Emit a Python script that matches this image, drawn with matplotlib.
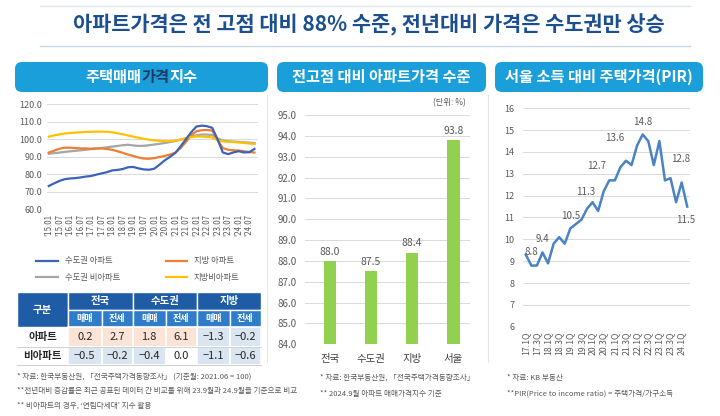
import numpy as np
import matplotlib
matplotlib.use('Agg')
import matplotlib.pyplot as plt
from matplotlib.patches import FancyBboxPatch, Rectangle

plt.rcParams['font.family'] = ['Noto Sans CJK KR', 'DejaVu Sans']

W, H = 720, 416
GRAY_TXT = '#595959'
GRID = '#d9d9d9'
TAB = '#1a9fdb'

TITLE = '아파트가격은 전 고점 대비 88% 수준, 전년대비 가격은 수도권만 상승'

# ---- left: 주택매매가격지수 (quarterly readings, months since 2015.01)
months = np.arange(0, 118, 3)
metro_apt = [73.3, 74.8, 76.2, 77.2, 77.6, 77.8, 78.2, 78.7, 79.0, 79.8,
             80.5, 81.2, 82.2, 82.5, 83.0, 84.0, 84.2, 83.4, 82.8, 82.6,
             83.2, 85.5, 88.0, 90.0, 92.2, 96.0, 100.0, 104.0, 107.3, 107.8,
             107.5, 106.5, 100.0, 92.5, 91.5, 92.5, 93.2, 92.5, 92.6, 94.5]
local_apt = [92.4, 93.5, 94.6, 95.2, 95.2, 95.0, 94.8, 94.8, 94.6, 94.8,
             94.8, 94.5, 94.0, 93.2, 92.3, 91.3, 90.5, 89.6, 89.0, 88.9,
             89.2, 89.9, 90.5, 91.3, 92.4, 95.0, 98.5, 102.3, 104.6, 105.2,
             105.3, 105.0, 99.5, 95.0, 94.0, 93.7, 93.6, 93.2, 92.8, 92.4]
metro_non = [91.8, 92.1, 92.4, 92.8, 93.1, 93.4, 93.7, 94.0, 94.4, 94.7,
             95.0, 95.4, 95.8, 96.2, 96.6, 96.9, 96.5, 96.2, 96.3, 96.6,
             97.0, 97.4, 97.9, 98.4, 99.0, 99.8, 100.6, 101.5, 102.3, 102.7,
             102.7, 102.5, 100.5, 99.3, 98.9, 98.7, 98.5, 98.3, 98.1, 97.8]
local_non = [101.5, 102.2, 102.8, 103.3, 103.6, 103.8, 104.0, 104.2, 104.3, 104.4,
             104.4, 104.3, 104.0, 103.5, 102.9, 102.2, 101.5, 100.9, 100.3, 99.8,
             99.4, 99.1, 98.9, 98.9, 99.3, 99.8, 100.6, 101.3, 101.6, 101.6,
             101.4, 101.0, 99.5, 98.8, 98.6, 98.4, 98.2, 97.9, 97.6, 97.3]
line_labels = ['수도권 아파트', '수도권 비아파트', '지방 아파트', '지방비아파트']
line_colors = ['#3b63b8', '#a5a5a5', '#ed7d31', '#ffc000']
month_ticks = ["'15.01", "'15.07", "'16.01", "'16.07", "'17.01", "'17.07",
               "'18.01", "'18.07", "'19.01", "'19.07", "'20.01", "'20.07",
               "'21.01", "'21.07", "'22.01", "'22.07", "'23.01", "'23.07",
               "'24.01", "'24.07"]

# ---- table: 전년대비 증감률
table_regions = ['전국', '수도권', '지방']
table_sub = ['매매', '전세']
table_rows = ['아파트', '비아파트']
table_values = [[0.2, 2.7, 1.8, 6.1, -1.3, -0.2],
                [-0.5, -0.2, -0.4, 0.0, -1.1, -0.6]]

# ---- middle: 전고점 대비 아파트가격 수준
bar_cats = ['전국', '수도권', '지방', '서울']
bar_values = [88.0, 87.5, 88.4, 93.8]

# ---- right: 서울 PIR (quarterly 17.1Q - 24.2Q)
pir_quarters = ['%d.%dQ' % (y, q) for y in range(17, 25) for q in range(1, 5)][:30]
pir_values = [9.3, 8.8, 8.8, 9.4, 8.9, 9.8, 10.1, 9.8, 10.5, 10.7,
              10.9, 11.4, 11.7, 11.3, 12.2, 12.7, 12.7, 13.3, 13.6, 13.4,
              14.3, 14.8, 14.5, 13.4, 14.5, 12.7, 12.8, 11.7, 12.6, 11.5]
pir_labeled = [1, 3, 8, 13, 15, 18, 21, 26, 29]
pir_label_offsets = [(0, 10), (0, 10), (0, 9), (-9, 14), (-9, 10),
                     (-8, 16), (0, 9), (7, 14), (-1, -10)]


def axes_px(fig, x0, y0, x1, y1):
    """ add an axes given pixel box (top-left origin) """
    ax = fig.add_axes([x0 / W, 1 - y1 / H, (x1 - x0) / W, (y1 - y0) / H])
    ax.patch.set_alpha(0)
    for s in ax.spines.values():
        s.set_visible(False)
    ax.tick_params(length=0, colors=GRAY_TXT)
    return ax


def header(fig, bg, x0, x1, parts):
    """ blue tab with centred bold text, pieces may differ in colour """
    bg.add_patch(FancyBboxPatch((x0, 62), x1 - x0, 30,
                                boxstyle='round,pad=0,rounding_size=7',
                                fc=TAB, ec='none'))
    renderer = fig.canvas.get_renderer()
    full = ''.join(p[0] for p in parts)
    probe = bg.text(0, 77, full, fontsize=11, fontweight='bold')
    total = probe.get_window_extent(renderer).width
    start = (x0 + x1) / 2 - total / 2
    prefix = ''
    for txt, col in parts:
        probe.set_text(prefix) if prefix else None
        offset = probe.get_window_extent(renderer).width if prefix else 0
        bg.text(start + offset, 77, txt, color=col, fontsize=11,
                fontweight='bold', ha='left', va='center')
        prefix += txt
    probe.remove()


fig = plt.figure(figsize=(W / 100, H / 100), dpi=100)
bg = fig.add_axes([0, 0, 1, 1])
bg.set_xlim(0, W)
bg.set_ylim(H, 0)
bg.axis('off')

# title
bg.plot([40, 690], [6, 6], color='#dfe4ea', lw=1)
bg.plot([40, 690], [46, 46], color='#c9d6e3', lw=1)
bg.text(369, 25, TITLE, ha='center', va='center', fontsize=15,
        fontweight='bold', color='#1b4f8f')

# panel frames
bg.plot([267, 267], [95, 362], color='#e6e6e6', lw=0.8)
bg.plot([488, 488], [95, 362], color='#e6e6e6', lw=0.8)

# headers
header(fig, bg, 15, 268, [('주택매매', 'white'), ('가격', '#1f3864'), ('지수', 'white')])
header(fig, bg, 277, 486, [('전고점 대비 아파트가격 수준', 'white')])
header(fig, bg, 495, 703, [('서울 소득 대비 주택가격(PIR)', 'white')])

# ---------- left line chart
ax1 = axes_px(fig, 47, 104.3, 258, 209.3)
series = [metro_apt, metro_non, local_apt, local_non]
handles = []
for vals, col, lab in zip(series, line_colors, line_labels):
    ln, = ax1.plot(months, vals, color=col, lw=1.6, label=lab)
    handles.append(ln)
handles[0].set_zorder(5)
ax1.set_ylim(60, 120)
ax1.set_xlim(-1, 119)
ax1.set_yticks(np.arange(60, 121, 10))
ax1.set_yticklabels(['%.1f' % v for v in np.arange(60, 121, 10)], fontsize=6.5)
ax1.set_xticks(np.arange(0, 115, 6))
ax1.set_xticklabels(month_ticks, rotation=90, fontsize=5.7)
ax1.grid(axis='y', color=GRID, lw=0.7)
ax1.set_axisbelow(True)
fig.legend(handles, line_labels, ncol=2, loc='upper center',
           bbox_to_anchor=(138 / W, 1 - 249 / H), frameon=False, fontsize=6,
           handlelength=2.6, columnspacing=5.5, labelspacing=0.9,
           labelcolor=GRAY_TXT)

# ---------- table
col_x = [17, 68, 101.5, 133, 165.5, 197, 229.5, 261]
row_y = [292, 309.5, 327, 347, 365]
dark_blue, mid_blue = '#1f5ca6', '#2f7dc8'
bg.add_patch(Rectangle((col_x[0], row_y[0]), col_x[1] - col_x[0],
                       row_y[2] - row_y[0], fc=dark_blue, ec='white', lw=1))
bg.text((col_x[0] + col_x[1]) / 2, (row_y[0] + row_y[2]) / 2, '구분',
        color='white', fontsize=7.5, fontweight='bold', ha='center', va='center')
for i, reg in enumerate(table_regions):
    xa, xb = col_x[1 + 2 * i], col_x[3 + 2 * i]
    bg.add_patch(Rectangle((xa, row_y[0]), xb - xa, row_y[1] - row_y[0],
                           fc=dark_blue, ec='white', lw=1))
    bg.text((xa + xb) / 2, (row_y[0] + row_y[1]) / 2, reg, color='white',
            fontsize=7.5, fontweight='bold', ha='center', va='center')
    for j, sub in enumerate(table_sub):
        xa2, xb2 = col_x[1 + 2 * i + j], col_x[2 + 2 * i + j]
        bg.add_patch(Rectangle((xa2, row_y[1]), xb2 - xa2, row_y[2] - row_y[1],
                               fc=mid_blue, ec='white', lw=1))
        bg.text((xa2 + xb2) / 2, (row_y[1] + row_y[2]) / 2, sub, color='white',
                fontsize=6.5, fontweight='bold', ha='center', va='center')
for r, (rname, rvals) in enumerate(zip(table_rows, table_values)):
    ya, yb = row_y[2 + r], row_y[3 + r]
    bg.text((col_x[0] + col_x[1]) / 2, (ya + yb) / 2, rname, color='#262626',
            fontsize=7.5, fontweight='bold', ha='center', va='center')
    for c, v in enumerate(rvals):
        fc = '#fbe4d5' if v > 0 else ('#dae5f2' if v < 0 else 'white')
        bg.add_patch(Rectangle((col_x[1 + c], ya), col_x[2 + c] - col_x[1 + c],
                               yb - ya, fc=fc, ec='white', lw=1.2))
        bg.text((col_x[1 + c] + col_x[2 + c]) / 2, (ya + yb) / 2,
                ('%.1f' % v).replace('-', '−'), color='#262626', fontsize=8,
                ha='center', va='center')
    bg.plot([col_x[0], col_x[-1]], [yb, yb], color='#d0d0d0', lw=0.7)

notes_left = ['* 자료: 한국부동산원, 「전국주택가격동향조사」 (기준월: 2021.06 = 100)',
              '**전년대비 증감률은 최근 공표된 데이터 간 비교를 위해 23.9월과 24.9월을 기준으로 비교',
              '** 비아파트의 경우, \u2018연립다세대\u2019 지수 활용']
for k, note in enumerate(notes_left):
    bg.text(17, 377 + 14.5 * k, note, fontsize=5.5, color=GRAY_TXT, va='center')

# ---------- middle bar chart
ax2 = axes_px(fig, 305, 115, 470, 344.3)
xpos = np.arange(len(bar_cats))
ax2.bar(xpos, bar_values, width=0.3, color='#92d050', zorder=3)
for x, v in zip(xpos, bar_values):
    ax2.annotate('%.1f' % v, (x, v), xytext=(0, 3), textcoords='offset points',
                 ha='center', va='bottom', fontsize=7.5, color=GRAY_TXT)
ax2.set_ylim(84, 95)
ax2.set_xlim(-0.6, 3.4)
ax2.set_yticks(np.arange(84, 96, 1))
ax2.set_yticklabels(['%.1f' % v for v in np.arange(84, 96, 1)], fontsize=7)
ax2.set_xticks(xpos)
ax2.set_xticklabels(bar_cats, fontsize=7.5, color='#404040')
ax2.tick_params(axis='x', pad=7)
ax2.tick_params(axis='y', pad=6)
ax2.grid(axis='y', color=GRID, lw=0.7)
ax2.set_axisbelow(True)
bg.text(466, 103, '(단위: %)', fontsize=6, color=GRAY_TXT, ha='right', va='center')
notes_mid = ['* 자료: 한국부동산원, 「전국주택가격동향조사」',
             '** 2024.9월 아파트 매매가격지수 기준']
for k, note in enumerate(notes_mid):
    bg.text(320, 378 + 16 * k, note, fontsize=5.5, color=GRAY_TXT, va='center')

# ---------- right PIR chart
ax3 = axes_px(fig, 523, 108.3, 690, 326.7)
qpos = np.arange(len(pir_values))
ax3.plot(qpos, pir_values, color='#4a82c3', lw=1.8)
for idx, off in zip(pir_labeled, pir_label_offsets):
    ax3.annotate('%.1f' % pir_values[idx], (idx, pir_values[idx]), xytext=off,
                 textcoords='offset points', ha='center', va='center',
                 fontsize=7, color=GRAY_TXT)
ax3.set_ylim(6, 16)
ax3.set_xlim(-0.5, 29.5)
ax3.set_yticks(np.arange(6, 17, 1))
ax3.tick_params(axis='y', labelsize=6.5, pad=6)
ax3.set_xticks(qpos[::2])
ax3.set_xticklabels(pir_quarters[::2], rotation=90, fontsize=6.3)
ax3.grid(axis='y', color=GRID, lw=0.7)
ax3.set_axisbelow(True)
notes_right = ['* 자료: KB 부동산',
               '**PIR(Price to income ratio) = 주택가격/가구소득']
for k, note in enumerate(notes_right):
    bg.text(507, 378 + 15.5 * k, note, fontsize=5.5, color=GRAY_TXT, va='center')

fig.savefig('out.png', dpi=100)
